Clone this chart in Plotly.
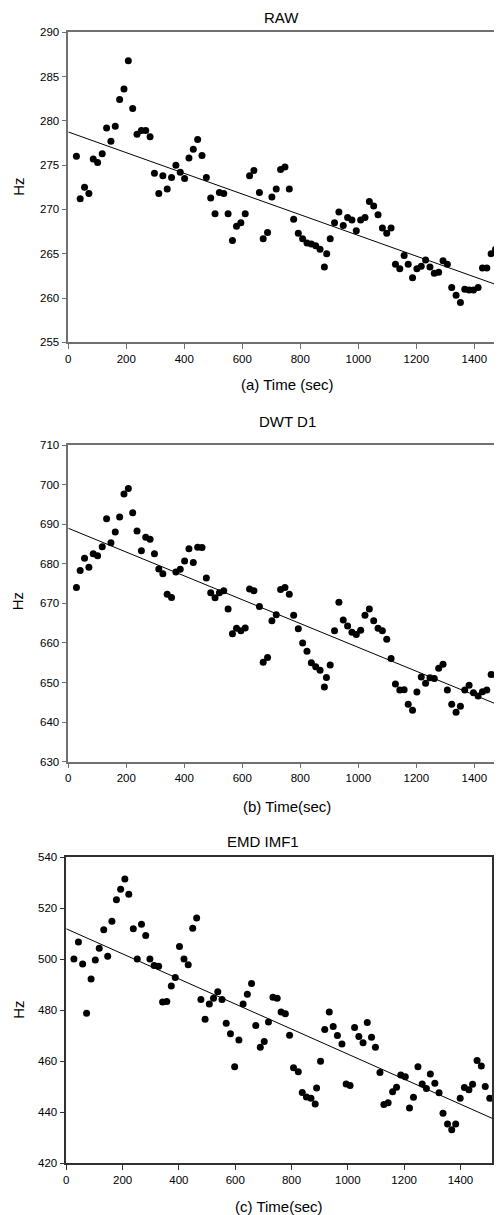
import numpy as np
import plotly.graph_objects as go

# ---- data ----
raw_t = [28, 41, 56, 71, 86, 101, 117, 132, 147, 162, 177, 192, 207, 222, 237,
         252, 267, 282, 297, 312, 326, 341, 356, 371, 386, 401, 416, 431, 446, 461,
         476, 491, 506, 521, 536, 551, 566, 580, 595, 610, 625, 640, 659, 672, 687,
         702, 717, 732, 747, 762, 777, 793, 808, 823, 838, 853, 868, 883, 891, 903,
         918, 933, 948, 963, 978, 993, 1008, 1023, 1038, 1053, 1068, 1083, 1098, 1113, 1128,
         1143, 1158, 1172, 1187, 1202, 1217, 1232, 1247, 1262, 1277, 1292, 1307, 1322, 1337, 1352,
         1367, 1382, 1397, 1413, 1428, 1443, 1458, 1473, 1487, 1500]
raw_hz = [276.0, 271.2, 272.5, 271.8, 275.7, 275.3, 276.3, 279.2, 277.7, 279.4, 282.4, 283.6, 286.8, 281.4, 278.5,
          278.9, 278.9, 278.2, 274.1, 271.8, 273.8, 272.3, 273.6, 275.0, 274.2, 273.5, 275.8, 276.8, 277.9, 276.1,
          273.6, 271.3, 269.5, 271.9, 271.8, 269.5, 266.5, 268.1, 268.5, 269.5, 273.8, 274.4, 271.9, 266.7, 267.4,
          271.4, 272.3, 274.5, 274.8, 272.3, 268.9, 267.3, 266.7, 266.2, 266.1, 265.9, 265.5, 263.5, 265.0, 266.7,
          268.5, 269.7, 268.2, 269.1, 268.8, 267.6, 268.8, 269.1, 270.9, 270.4, 269.4, 267.9, 267.3, 267.9, 263.8,
          263.3, 264.8, 263.8, 262.3, 263.3, 263.6, 264.3, 263.5, 262.8, 262.9, 264.2, 263.8, 261.2, 260.3, 259.5,
          261.0, 260.9, 260.9, 261.2, 263.4, 263.4, 265.0, 265.5, 264.6, 263.5]

dwt_t = [28, 41, 56, 71, 86, 101, 117, 132, 147, 162, 177, 192, 207, 222, 237,
         252, 267, 282, 297, 312, 326, 341, 356, 371, 386, 401, 416, 431, 446, 461,
         476, 491, 506, 521, 536, 551, 566, 580, 595, 610, 625, 640, 659, 672, 687,
         702, 717, 732, 747, 762, 777, 793, 808, 823, 838, 853, 868, 883, 890, 903,
         918, 933, 948, 963, 978, 993, 1008, 1023, 1038, 1053, 1068, 1083, 1098, 1113, 1128,
         1143, 1158, 1172, 1187, 1202, 1217, 1232, 1247, 1262, 1277, 1292, 1307, 1322, 1337, 1352,
         1367, 1382, 1397, 1413, 1428, 1443, 1458, 1473, 1487, 1500]
dwt_hz = [674.0, 678.3, 681.4, 679.1, 682.5, 682.0, 684.3, 691.4, 685.3, 688.0, 691.8, 697.6, 699.0, 692.9, 688.3,
          683.3, 686.7, 686.2, 682.5, 678.7, 677.5, 672.3, 671.5, 677.9, 678.6, 680.7, 683.8, 680.3, 684.2, 684.1,
          676.4, 672.7, 671.4, 672.7, 673.2, 668.6, 662.3, 663.7, 663.1, 663.8, 673.6, 673.2, 669.2, 655.1, 656.3,
          665.6, 667.1, 673.5, 674.0, 672.3, 667.0, 663.6, 660.0, 657.9, 655.0, 654.0, 653.1, 648.9, 651.3, 654.4,
          663.1, 670.3, 665.8, 664.3, 662.7, 662.1, 663.2, 667.0, 668.6, 665.6, 663.7, 663.1, 660.9, 656.1, 649.6,
          648.1, 648.2, 644.5, 643.0, 647.6, 651.4, 649.8, 651.2, 651.0, 653.6, 654.6, 648.1, 644.5, 642.5, 644.0,
          648.1, 649.3, 647.4, 646.6, 647.7, 648.1, 652.0, 652.0, 651.3, 645.6]

emd_t = [27, 43, 58, 72, 88, 103, 117, 133, 147, 162, 178, 193, 208, 222, 238,
         252, 267, 282, 297, 312, 328, 342, 357, 373, 387, 402, 418, 433, 449, 463,
         478, 493, 508, 523, 538, 553, 568, 583, 598, 613, 628, 643, 658, 673, 689,
         703, 718, 734, 749, 763, 778, 793, 807, 824, 838, 853, 869, 884, 889, 903,
         918, 934, 948, 963, 979, 994, 1008, 1024, 1039, 1054, 1069, 1084, 1098, 1114, 1128,
         1143, 1159, 1173, 1188, 1204, 1219, 1233, 1249, 1264, 1279, 1293, 1309, 1324, 1338, 1354,
         1369, 1383, 1399, 1414, 1430, 1443, 1459, 1474, 1488, 1504]
emd_hz = [500.1, 506.8, 498.2, 478.8, 492.3, 499.7, 504.3, 511.6, 501.2, 514.9, 523.4, 527.5, 531.5, 525.5, 512.0,
          500.1, 513.7, 509.3, 500.1, 497.6, 497.3, 483.3, 483.5, 489.5, 492.9, 505.0, 500.1, 497.9, 512.2, 516.2,
          484.2, 476.5, 482.5, 484.7, 487.3, 484.2, 474.9, 470.8, 457.9, 468.4, 482.5, 486.3, 490.5, 474.0, 465.5,
          467.8, 475.4, 485.1, 484.7, 479.3, 478.6, 470.2, 457.5, 455.9, 447.8, 446.0, 445.5, 443.3, 449.5, 460.0,
          472.5, 479.3, 473.6, 470.1, 466.8, 451.1, 450.5, 473.3, 469.7, 467.3, 475.2, 469.4, 465.5, 455.6, 443.1,
          443.7, 448.1, 449.8, 454.6, 453.9, 441.7, 445.9, 457.9, 451.1, 449.3, 455.0, 451.4, 447.7, 439.6, 435.4,
          433.2, 435.4, 445.5, 449.7, 448.8, 451.0, 460.3, 458.2, 450.1, 445.5]

panel_titles = ["RAW", "DWT D1", "EMD IMF1"]
x_titles = ["(a) Time (sec)", "(b) Time(sec)", "(c) Time(sec)"]
x_ticks = [0, 200, 400, 600, 800, 1000, 1200, 1400]

W, H = 502, 1215
OFF = 8  # page body margin the figure sits in
FONT = "Liberation Sans, Arial, sans-serif"

# (series, y range, y step, x-range end, px left/right/top/bottom on screen, axis colour)
panels = [
    (raw_t, raw_hz, [255, 290], 5, 1523, 68.3, 510, 32.3, 342.3, "#707070"),
    (dwt_t, dwt_hz, [630, 710], 10, 1523, 68.3, 510, 445.0, 761.7, "#707070"),
    (emd_t, emd_hz, [420, 540], 20, 1512, 66.3, 492, 857.3, 1163.3, "#303030"),
]

fig = go.Figure()

for i, (t, hz, yr, dy, xend, pl, pr, pt, pb, acol) in enumerate(panels):
    n = "" if i == 0 else str(i + 1)
    xa, ya = "x" + n, "y" + n

    fig.add_trace(go.Scatter(x=t, y=hz, mode="markers", xaxis=xa, yaxis=ya,
                             marker=dict(color="black", size=7), showlegend=False))
    # least squares trend line
    k, b = np.polyfit(t, hz, 1)
    fx = np.array([0, xend])
    fig.add_trace(go.Scatter(x=fx, y=k * fx + b, mode="lines", xaxis=xa, yaxis=ya,
                             line=dict(color="black", width=1), showlegend=False))

    common = dict(showline=True, linecolor=acol, linewidth=1.5, ticks="outside",
                  ticklen=5, tickcolor=acol, tickwidth=1, showgrid=False, zeroline=False,
                  automargin=False,
                  tickfont=dict(family=FONT, size=11.5, color="black"))
    fig.update_layout({
        "xaxis" + n: dict(domain=[(pl - OFF) / W, min(1, (pr - OFF) / W)], range=[0, xend],
                          tickvals=x_ticks, anchor=ya, mirror=True, **common),
        "yaxis" + n: dict(domain=[1 - (pb - OFF) / H, 1 - (pt - OFF) / H], range=yr, dtick=dy,
                          anchor=xa, mirror=(i == 2), **common),
    })

# titles, axis labels as annotations at measured screen positions
title_pos = [(281, 17), (287.5, 421.5), (263, 841)]
xlab_pos = [(287, 385), (287, 806), (279, 1206.5)]
hz_pos = [(17.8, 187), (17.8, 601.5), (17.8, 1010)]


def note(txt, px, py, angle=0):
    fig.add_annotation(text=txt, x=(px - OFF) / W, y=1 - (py - OFF) / H,
                       xref="paper", yref="paper", xanchor="center", yanchor="middle",
                       showarrow=False, textangle=angle, borderpad=0,
                       font=dict(family=FONT, size=15, color="black"))


for txt, (px, py) in zip(panel_titles, title_pos):
    note(txt, px, py)
for txt, (px, py) in zip(x_titles, xlab_pos):
    note(txt, px, py)
for px, py in hz_pos:
    note("Hz", px, py, -90)

fig.update_layout(width=W, height=H, margin=dict(l=0, r=0, t=0, b=0),
                  plot_bgcolor="white", paper_bgcolor="white",
                  font=dict(family=FONT, color="black"))

fig.write_html("out.html")
